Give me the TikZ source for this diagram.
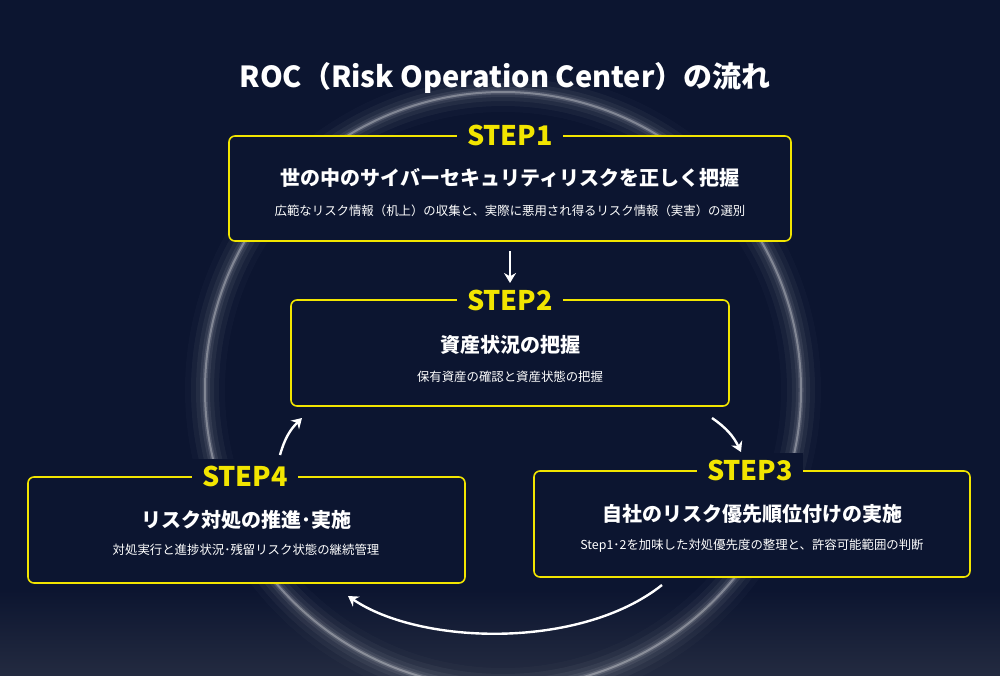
\documentclass[tikz,border=0pt]{standalone}
\usepackage{fontspec}
\setmainfont{Noto Sans CJK JP}
\usetikzlibrary{arrows.meta,positioning}
\definecolor{bg}{HTML}{0C1530}
\definecolor{stepyellow}{HTML}{F2E500}

\begin{document}
\begin{tikzpicture}[x=0.5pt,y=-0.5pt,
    >={Stealth[length=5pt,width=6pt]},
    box/.style = {
      draw = stepyellow,
      fill = bg,
      line width = 0.8pt,
      rounded corners = 3pt,
      inner sep = 0pt
    },
    steplabel/.style = {
      fill = bg,
      text = stepyellow,
      font = \fontsize{13.5}{13.5}\selectfont\bfseries,
      inner xsep = 5pt
    },
    head/.style = {
      text = white,
      font = \fontsize{10}{10}\selectfont\bfseries
    },
    sub/.style = {
      text = white,
      font = \fontsize{6.2}{7}\selectfont
    },
    flow/.style = {
      ->,
      white,
      line width = 1.2pt
    }
  ]
  \useasboundingbox (0,0) rectangle (1000,675);
  \fill[bg] (0,0) rectangle (1000,675);
  \shade[top color=bg, bottom color=bg!80!gray] (0,590) rectangle (1000,675);

  % glow ring
  \foreach \w/\o in {40/0.02,28/0.04,18/0.05,10/0.07,5/0.12,2/0.3}
    \draw[white, opacity=\o, line width=\w*0.5pt] (503,390) circle (298);

  \node[text=white, font=\fontsize{14.5}{14.5}\selectfont\bfseries] (title) at (505,78)
    {ROC（Risk Operation Center）の流れ};

  % boxes
  \node[box, minimum width=281pt, minimum height=52.5pt] (b1) at (510,188.5) {};
  \node[box, minimum width=219pt, minimum height=53pt] (b2) at (510,353) {};
  \node[box, minimum width=218pt, minimum height=53pt] (b3) at (752,524) {};
  \node[box, minimum width=218.5pt, minimum height=53pt] (b4) at (246.5,530) {};

  \node[steplabel] (s1) at (510,135) {STEP1};
  \node[steplabel] (s2) at (510,300) {STEP2};
  \node[steplabel] (s3) at (750,470) {STEP3};
  \node[steplabel] (s4) at (245,476) {STEP4};

  \node[head] (h1) at (510,178) {世の中のサイバーセキュリティリスクを正しく把握};
  \node[sub]  (t1) at (510,211) {広範なリスク情報（机上）の収集と、実際に悪用され得るリスク情報（実害）の選別};
  \node[head] (h2) at (510,345) {資産状況の把握};
  \node[sub]  (t2) at (510,377) {保有資産の確認と資産状態の把握};
  \node[head] (h3) at (752,514) {自社のリスク優先順位付けの実施};
  \node[sub]  (t3) at (752,546) {Step1･2を加味した対処優先度の整理と、許容可能範囲の判断};
  \node[head] (h4) at (246,520) {リスク対処の推進･実施};
  \node[sub]  (t4) at (246,550) {対処実行と進捗状況･残留リスク状態の継続管理};

  % arrows
  \coordinate (a1) at (510,251);
  \coordinate (a2) at (510,283);
  \coordinate (c1) at (712,418);
  \coordinate (c2) at (741,452);
  \coordinate (d1) at (662,585);
  \coordinate (d2) at (348,596);
  \coordinate (e1) at (280,455);
  \coordinate (e2) at (302,418);

  \draw[flow] (a1) -- (a2);
  \draw[flow] (c1) to[bend left=15] (c2);
  \draw[flow] (d1) .. controls (580,650) and (420,645) .. (d2);
  \draw[flow] (e1) to[bend left=15] (e2);
\end{tikzpicture}
\end{document}
